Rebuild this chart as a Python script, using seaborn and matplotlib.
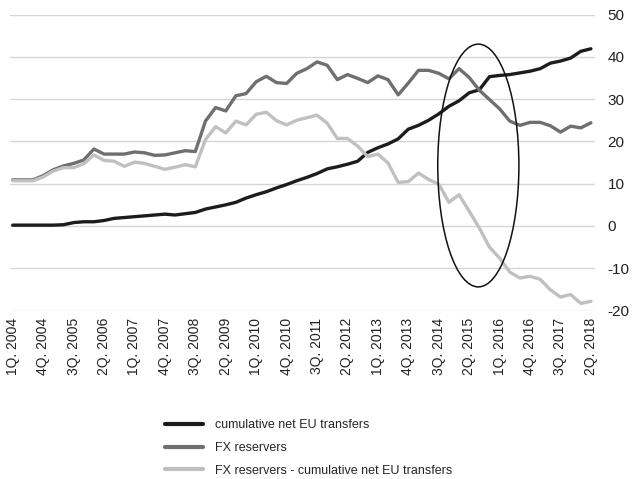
import numpy as np
import pandas as pd
import seaborn as sns
import matplotlib.pyplot as plt
from matplotlib.patches import Ellipse

# kvartaly 1Q.2004 - 2Q.2018
kvartaly = list(range(58))

eu_transfers = [0.2, 0.2, 0.2, 0.2, 0.2, 0.3, 0.8, 1.0, 1.0, 1.3,
                1.8, 2.0, 2.2, 2.4, 2.6, 2.8, 2.6, 2.9, 3.2, 4.0,
                4.5, 5.0, 5.6, 6.6, 7.4, 8.1, 9.0, 9.8, 10.7, 11.5,
                12.4, 13.5, 14.0, 14.6, 15.3, 17.4, 18.5, 19.4, 20.6, 22.9,
                23.8, 25.0, 26.5, 28.3, 29.6, 31.5, 32.2, 35.3, 35.6, 35.8,
                36.2, 36.6, 37.2, 38.5, 39.0, 39.7, 41.3, 41.9]

fx_reserves = [10.9, 10.9, 10.9, 11.9, 13.3, 14.2, 14.8, 15.6, 18.2, 17.0,
               17.0, 17.0, 17.5, 17.3, 16.7, 16.8, 17.3, 17.8, 17.6, 24.8,
               28.0, 27.2, 30.8, 31.3, 34.1, 35.4, 33.9, 33.7, 36.1, 37.2,
               38.8, 38.0, 34.6, 35.8, 34.9, 33.9, 35.5, 34.6, 31.0, 33.8,
               36.8, 36.8, 36.1, 34.8, 37.2, 35.1, 32.1, 29.9, 27.7, 24.8,
               23.8, 24.5, 24.5, 23.7, 22.2, 23.6, 23.2, 24.4]

fx_minus_eu = [10.7, 10.7, 10.7, 11.6, 13.0, 13.8, 13.8, 14.7, 16.8, 15.5,
               15.3, 14.1, 15.1, 14.8, 14.1, 13.4, 13.9, 14.5, 14.0, 20.4,
               23.5, 22.0, 24.8, 23.9, 26.4, 26.9, 24.9, 23.9, 25.0, 25.6,
               26.2, 24.3, 20.7, 20.7, 18.9, 16.4, 17.0, 14.9, 10.3, 10.5,
               12.5, 11.0, 9.9, 5.6, 7.4, 3.5, -0.5, -5.0, -7.6, -10.9,
               -12.3, -11.9, -12.6, -15.1, -16.8, -16.2, -18.3, -17.8]

tick_labels = ['1Q. 2004', '4Q. 2004', '3Q. 2005', '2Q. 2006', '1Q. 2007',
               '4Q. 2007', '3Q. 2008', '2Q. 2009', '1Q. 2010', '4Q. 2010',
               '3Q. 2011', '2Q. 2012', '1Q. 2013', '4Q. 2013', '3Q. 2014',
               '2Q. 2015', '1Q. 2016', '4Q. 2016', '3Q. 2017', '2Q. 2018']

nazvy = ['cumulative net EU transfers', 'FX reservers',
         'FX reservers - cumulative net EU transfers']
barvy = ['#1c1c1c', '#6f6f6f', '#c0c0c0']

df = pd.DataFrame({'q': kvartaly * 3,
                   'hodnota': eu_transfers + fx_reserves + fx_minus_eu,
                   'rada': [nazvy[0]] * 58 + [nazvy[1]] * 58 + [nazvy[2]] * 58})

sns.set_style('white')
plt.rcParams['font.family'] = ['Liberation Sans', 'DejaVu Sans']
plt.rcParams['axes.unicode_minus'] = False

fig = plt.figure(figsize=(6.36, 4.79), dpi=100)
ax = fig.add_axes([0.0157, 0.3516, 0.9198, 0.6181])

sns.lineplot(data=df, x='q', y='hodnota', hue='rada', hue_order=nazvy,
             palette=barvy, linewidth=2.4, ax=ax, legend=False)

# elipsa kolem obdobi 2015
ax.add_patch(Ellipse((45.9, 14.3), 8.0, 57.4, fill=False, edgecolor='#111111', linewidth=1.1, zorder=5))

ax.set_xlim(-0.27, 57.4)
ax.set_ylim(-20, 50)
ax.set_yticks(range(-20, 51, 10))
ax.set_xticks(range(0, 58, 3))
ax.set_xticklabels(tick_labels, rotation=90, fontsize=10, color='#222222')
ax.yaxis.tick_right()
ax.tick_params(axis='y', length=0, pad=9, labelsize=11, labelcolor='#222222')
ax.tick_params(axis='x', length=0, pad=5)
for lab in ax.get_yticklabels():
    lab.set_horizontalalignment('left')
ax.yaxis.grid(True, color='#d6d6d6', linewidth=1)
ax.set_axisbelow(True)
for s in ax.spines.values():
    s.set_visible(False)
ax.set_xlabel('')
ax.set_ylabel('')

handles = [plt.Line2D([], [], color=c, linewidth=3) for c in barvy]
fig.legend(handles, nazvy, loc='upper left', bbox_to_anchor=(0.242, 0.148),
           frameon=False, handlelength=3.0, handletextpad=0.95, labelspacing=0.85,
           prop={'size': 9})

fig.savefig('out.png', dpi=100)
